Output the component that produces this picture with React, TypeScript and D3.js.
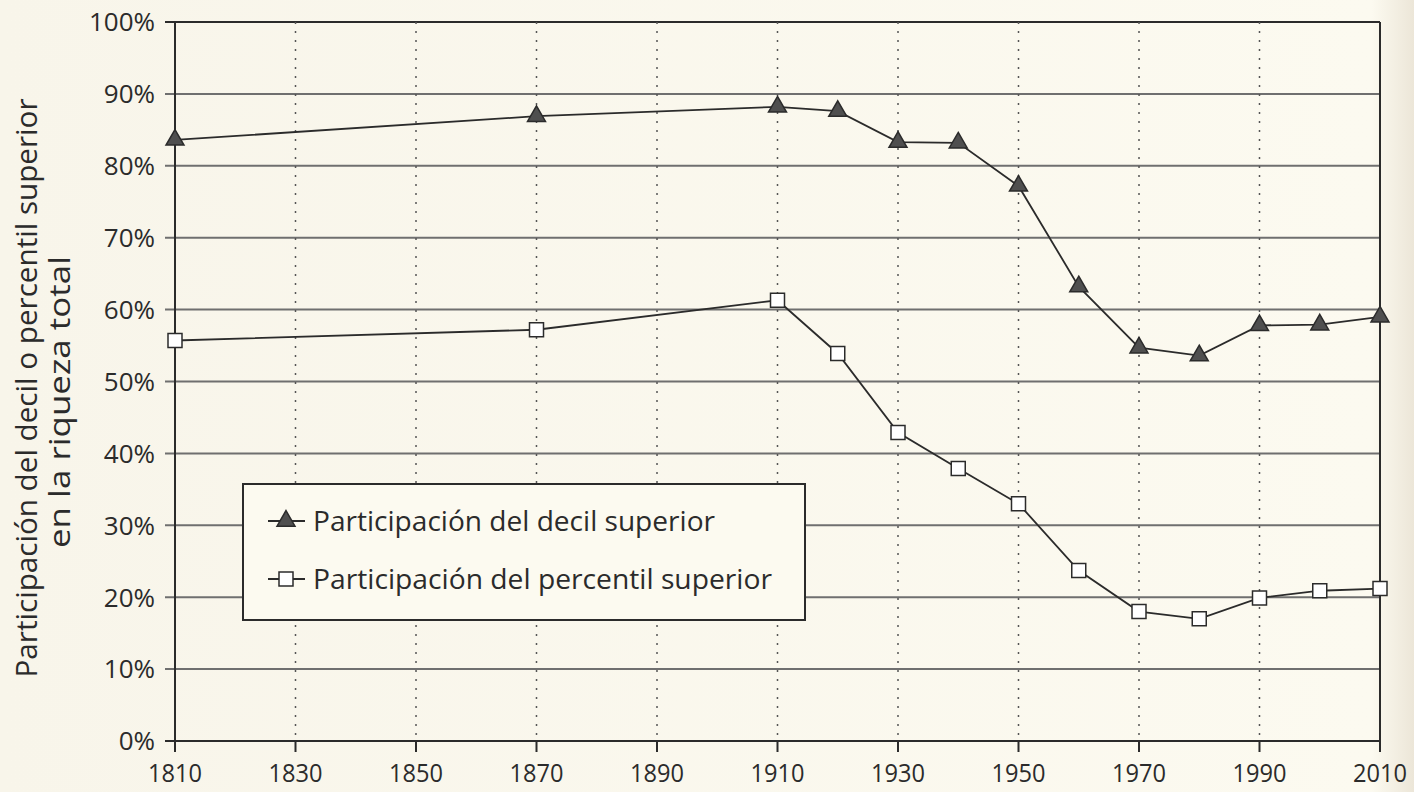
import * as d3 from "d3";
import { useEffect, useRef } from "react";

// years where values were read
const years = [1810, 1870, 1910, 1920, 1930, 1940, 1950, 1960, 1970, 1980, 1990, 2000, 2010];
// top decile share of total wealth (%)
const decileShare = [83.6, 86.9, 88.2, 87.6, 83.3, 83.2, 77.2, 63.2, 54.7, 53.6, 57.8, 57.9, 59.0];
// top percentile share of total wealth (%)
const percentileShare = [55.7, 57.2, 61.3, 53.9, 42.9, 37.9, 33.0, 23.7, 18.0, 17.0, 19.9, 20.9, 21.2];

const xTicks = [1810, 1830, 1850, 1870, 1890, 1910, 1930, 1950, 1970, 1990, 2010];
const yTicks = [0, 10, 20, 30, 40, 50, 60, 70, 80, 90, 100];

const legendLabels = ["Participación del decil superior", "Participación del percentil superior"];
const yTitle = ["Participación del decil o percentil superior", "en la riqueza total"];

const App = () => {
  const svgRef = useRef<SVGSVGElement | null>(null);

  useEffect(() => {
    if (!svgRef.current) return;
    const svg = d3.select(svgRef.current);
    svg.selectAll("*").remove();

    const width = 1414;
    const height = 792;
    const left = 175;
    const right = 1380;
    const top = 22;
    const bottom = 741;
    const font = "'Open Sans', 'Noto Sans', sans-serif";
    const ink = "#2b2b2b";

    const x = d3.scaleLinear().domain([1810, 2010]).range([left, right]);
    const y = d3.scaleLinear().domain([0, 100]).range([bottom, top]);

    // paper background
    const defs = svg.append("defs");
    const grad = defs.append("linearGradient").attr("id", "paper").attr("x1", 0).attr("x2", 1);
    grad.append("stop").attr("offset", "0%").attr("stop-color", "#f8f5ea");
    grad.append("stop").attr("offset", "97%").attr("stop-color", "#fcfaf0");
    grad.append("stop").attr("offset", "100%").attr("stop-color", "#ece6d8");
    svg.append("rect").attr("width", width).attr("height", height).attr("fill", "url(#paper)");

    // horizontal grid
    svg
      .append("g")
      .selectAll("line")
      .data(yTicks)
      .join("line")
      .attr("x1", left - 10)
      .attr("x2", right)
      .attr("y1", (d) => y(d))
      .attr("y2", (d) => y(d))
      .attr("stroke", (d) => (d === 0 || d === 100 ? ink : "#6f6f6f"))
      .attr("stroke-width", 2);

    // vertical dotted grid
    svg
      .append("g")
      .selectAll("line")
      .data(xTicks.slice(1, -1))
      .join("line")
      .attr("x1", (d) => x(d))
      .attr("x2", (d) => x(d))
      .attr("y1", top)
      .attr("y2", bottom)
      .attr("stroke", "#555")
      .attr("stroke-width", 1.5)
      .attr("stroke-dasharray", "2,7");

    // frame left / right
    svg.append("line").attr("x1", left).attr("x2", left).attr("y1", top).attr("y2", bottom + 11)
      .attr("stroke", ink).attr("stroke-width", 2);
    svg.append("line").attr("x1", right).attr("x2", right).attr("y1", top).attr("y2", bottom + 11)
      .attr("stroke", ink).attr("stroke-width", 2);

    // x ticks
    svg
      .append("g")
      .selectAll("line")
      .data(xTicks)
      .join("line")
      .attr("x1", (d) => x(d))
      .attr("x2", (d) => x(d))
      .attr("y1", bottom)
      .attr("y2", bottom + 11)
      .attr("stroke", ink)
      .attr("stroke-width", 2);

    svg
      .append("g")
      .selectAll("text")
      .data(xTicks)
      .join("text")
      .attr("x", (d) => x(d))
      .attr("y", 782)
      .attr("text-anchor", "middle")
      .attr("font-family", font)
      .attr("font-size", 25)
      .attr("textLength", 54)
      .attr("lengthAdjust", "spacingAndGlyphs")
      .attr("fill", ink)
      .text((d) => d);

    svg
      .append("g")
      .selectAll("text")
      .data(yTicks)
      .join("text")
      .attr("x", 155)
      .attr("y", (d) => y(d))
      .attr("dy", "0.36em")
      .attr("text-anchor", "end")
      .attr("font-family", font)
      .attr("font-size", 26)
      .attr("fill", ink)
      .text((d) => `${d}%`);

    // y title, two rotated lines
    const titleCenters = [388, 402];
    const titleLengths = [579, 292];
    const titleBase = [37, 70];
    yTitle.forEach((t, i) => {
      svg
        .append("text")
        .attr("transform", `translate(${titleBase[i]},${titleCenters[i]}) rotate(-90)`)
        .attr("text-anchor", "middle")
        .attr("font-family", font)
        .attr("font-size", 30)
        .attr("textLength", titleLengths[i])
        .attr("lengthAdjust", "spacingAndGlyphs")
        .attr("fill", ink)
        .text(t);
    });

    // series
    const line = d3
      .line<number>()
      .x((_d, i) => x(years[i]))
      .y((d) => y(d));

    const series = [
      { values: decileShare, symbol: d3.symbolTriangle, size: 140, fill: "#4f4f4f" },
      { values: percentileShare, symbol: d3.symbolSquare, size: 196, fill: "#ffffff" },
    ];

    series.forEach((s) => {
      svg
        .append("path")
        .attr("d", line(s.values))
        .attr("fill", "none")
        .attr("stroke", ink)
        .attr("stroke-width", 1.8);
      svg
        .append("g")
        .selectAll("path")
        .data(s.values)
        .join("path")
        .attr("transform", (d, i) => `translate(${x(years[i])},${y(d)})`)
        .attr("d", d3.symbol(s.symbol, s.size)())
        .attr("fill", s.fill)
        .attr("stroke", ink)
        .attr("stroke-width", 1.5);
    });

    // legend
    const legendLengths = [402, 459];
    const lg = svg.append("g");
    lg.append("rect")
      .attr("x", 243)
      .attr("y", 484)
      .attr("width", 562)
      .attr("height", 136)
      .attr("fill", "#fcfaf0")
      .attr("stroke", ink)
      .attr("stroke-width", 2);
    legendLabels.forEach((label, i) => {
      const cy = 521 + i * 58;
      lg.append("line").attr("x1", 268).attr("x2", 305).attr("y1", cy).attr("y2", cy)
        .attr("stroke", ink).attr("stroke-width", 1.8);
      lg.append("path")
        .attr("transform", `translate(286,${cy})`)
        .attr("d", d3.symbol(series[i].symbol, series[i].size)())
        .attr("fill", series[i].fill)
        .attr("stroke", ink)
        .attr("stroke-width", 1.5);
      lg.append("text")
        .attr("x", 313)
        .attr("y", cy)
        .attr("dy", "0.36em")
        .attr("font-family", font)
        .attr("font-size", 27)
        .attr("textLength", legendLengths[i])
        .attr("lengthAdjust", "spacingAndGlyphs")
        .attr("fill", ink)
        .text(label);
    });
  }, []);

  return (
    <svg
      ref={svgRef}
      width={1414}
      height={792}
      style={{ position: "absolute", left: 0, top: 0, display: "block" }}
    />
  );
};

export default App;
